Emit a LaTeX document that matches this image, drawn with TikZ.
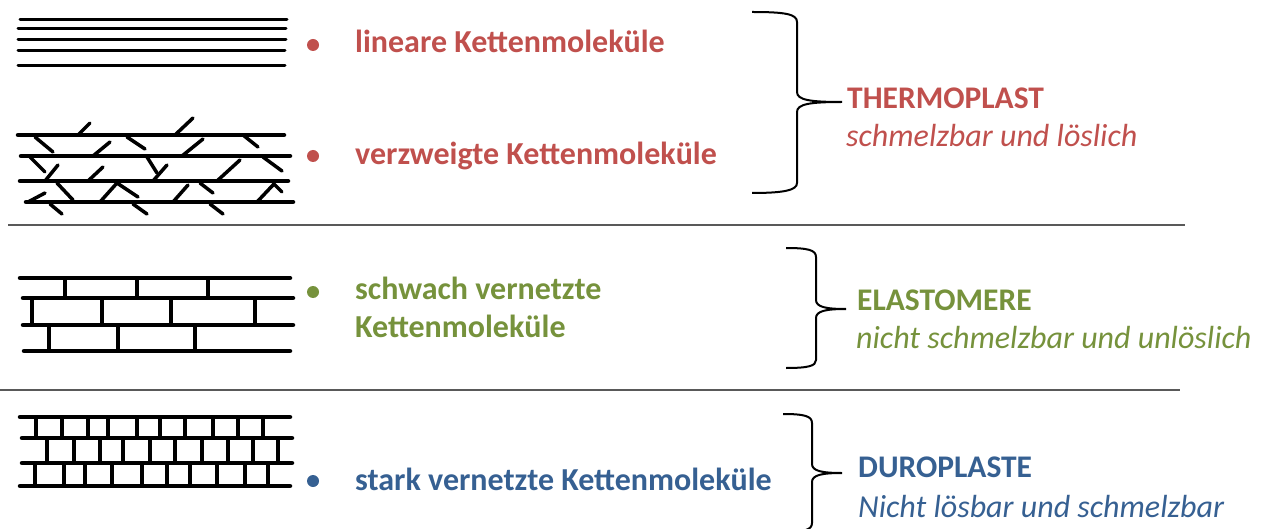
\documentclass[tikz,border=0pt]{standalone}
\usepackage{fontspec}
\setmainfont{Carlito}
\definecolor{cred}{RGB}{192,80,77}
\definecolor{cgreen}{RGB}{118,146,60}
\definecolor{cblue}{RGB}{54,96,146}
\begin{document}
\begin{tikzpicture}[x=1pt,y=-1pt,
  lbl/.style={anchor=base west,inner sep=0pt,font=\fontsize{32}{36}\selectfont\bfseries},
  captxt/.style={anchor=base west,inner sep=0pt,font=\fontsize{31.5}{36}\selectfont\bfseries},
  subtxt/.style={anchor=base west,inner sep=0pt,font=\fontsize{32}{36}\selectfont\itshape},
  dot/.style={circle,inner sep=0pt,minimum size=12pt},
  chain/.style={line width=4.5pt,line cap=round},
  thin chain/.style={line width=3pt,line cap=round},
  branch/.style={line width=3.5pt,line cap=round},
  rung/.style={line width=3.5pt},
  sep/.style={line width=2.5pt,draw=black!65},
  brace/.style={line width=2pt}]
\useasboundingbox (0,0) rectangle (1265,529);
\begin{scope}
\clip (0,0) rectangle (1265,529);
% ---------- linear chains
\foreach \y/\a/\b in {20/20/287, 29/18/286, 40/18/286, 51/18/285, 66/18/285}
  \draw[thin chain] (\a,\y) -- (\b,\y);
% ---------- branched chains
\foreach \y/\a/\b in {135/18/284, 156/21/290, 181/20/288, 202/26/293}
  \draw[chain] (\a,\y) -- (\b,\y);
\foreach \x/\y/\u/\v in {
  78/135/90/123, 175/135/193/118,
  35/137/53/152, 127/137/145/149, 243/135/258/147,
  93/156/110/142, 182/156/203/139,
  30/157/45/172, 147/157/157/173, 263/157/282/171,
  45/181/58/165, 88/181/103/167, 153/181/167/165, 217/181/240/160,
  57/183/73/200, 117/183/138/197, 200/183/213/193, 273/183/282/192,
  100/202/117/183, 173/202/188/185, 257/202/273/185, 28/202/45/193,
  50/204/62/214, 133/204/147/214, 210/204/223/214}
  \draw[branch] (\x,\y) -- (\u,\v);
% ---------- weakly cross-linked
\foreach \y/\a/\b in {278/20/290, 298/23/293, 325/23/293, 351/24/290}
  \draw[chain] (\a,\y) -- (\b,\y);
\foreach \x in {65,137,208} \draw[rung] (\x,278) -- (\x,298);
\foreach \x in {32,102,171,255} \draw[rung] (\x,298) -- (\x,325);
\foreach \x in {49,118,195} \draw[rung] (\x,325) -- (\x,351);
% ---------- strongly cross-linked
\foreach \y/\a/\b in {417/20/290, 438/22/292, 463/22/292, 486/20/290}
  \draw[chain] (\a,\y) -- (\b,\y);
\foreach \x in {36,62,88,108,137,160,185,213,238,263} \draw[rung] (\x,417) -- (\x,438);
\foreach \x in {47,74,100,123,150,175,202,228,253,278} \draw[rung] (\x,438) -- (\x,463);
\foreach \x in {35,64,85,112,142,167,190,217,245,268} \draw[rung] (\x,463) -- (\x,486);
% ---------- separators
\draw[sep] (8,225) -- (1185,225);
\draw[sep] (0,390) -- (1180,390);
% ---------- bullets and labels
\node[dot,fill=cred] (b1) at (313,45) {};
\node[lbl,text=cred] (t1) at (355,53) {lineare Kettenmoleküle};
\node[dot,fill=cred] (b2) at (313,156) {};
\node[lbl,text=cred] (t2) at (355,165) {verzweigte Kettenmoleküle};
\node[dot,fill=cgreen] (b3) at (313,292) {};
\node[lbl,text=cgreen] (t3) at (355,299) {schwach vernetzte};
\node[lbl,text=cgreen] (t3b) at (355,337) {Kettenmoleküle};
\node[dot,fill=cblue] (b4) at (313,481) {};
\node[lbl,text=cblue] (t4) at (355,490) {stark vernetzte Kettenmoleküle};
% ---------- braces
\coordinate (p1) at (842,102);
\draw[brace] (752,12) .. controls (785,12) and (797,14) .. (797,22) -- (797,92)
  .. controls (797,100) and (810,102) .. (p1)
  .. controls (810,102) and (797,104) .. (797,112) -- (797,183)
  .. controls (797,190) and (785,193) .. (752,193);
\coordinate (p2) at (846,309);
\draw[brace] (786,248) .. controls (808,248) and (816,250) .. (816,257) -- (816,300)
  .. controls (816,307) and (826,309) .. (p2)
  .. controls (826,309) and (816,311) .. (816,318) -- (816,360)
  .. controls (816,366) and (808,368) .. (786,368);
\coordinate (p3) at (842,473);
\draw[brace] (783,414) .. controls (804,414) and (812,416) .. (812,423) -- (812,464)
  .. controls (812,471) and (822,473) .. (p3)
  .. controls (822,473) and (812,475) .. (812,482) -- (812,523)
  .. controls (812,530) and (804,532) .. (783,532);
\end{scope}
% ---------- captions
\node[captxt,text=cred] (c1) at (847,109) {THERMOPLAST};
\node[subtxt,text=cred] (s1) at (846,147) {schmelzbar und löslich};
\node[captxt,text=cgreen] (c2) at (857,310) {ELASTOMERE};
\node[subtxt,text=cgreen] (s2) at (856,348) {nicht schmelzbar und unlöslich};
\node[captxt,text=cblue] (c3) at (858,477) {DUROPLASTE};
\node[subtxt,text=cblue] (s3) at (858,517) {Nicht lösbar und schmelzbar};
\end{tikzpicture}
\end{document}
